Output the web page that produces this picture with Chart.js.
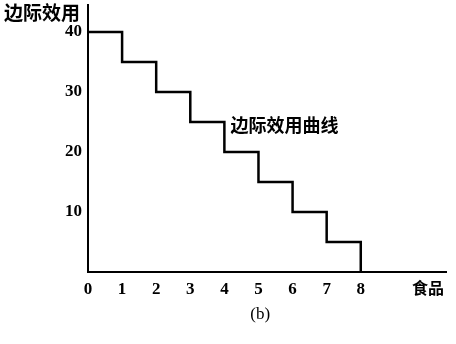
<!DOCTYPE html>
<html>
<head>
<meta charset="utf-8">
<script src="https://cdn.jsdelivr.net/npm/chart.js@4/dist/chart.umd.min.js"></script>
<style>
  html, body { margin: 0; padding: 0; background: #fff; }
  #wrap { width: 456px; height: 344px; }
</style>
</head>
<body>
<div id="wrap"><canvas id="c" width="456" height="344"></canvas></div>
<script>
// Quantity of food consumed and the marginal utility of each extra unit
const quantities = [0, 1, 2, 3, 4, 5, 6, 7, 8];
const marginalUtility = [40, 35, 30, 25, 20, 15, 10, 5, 0];
const xTickValues = [0, 1, 2, 3, 4, 5, 6, 7, 8];
const yTickValues = [10, 20, 30, 40];

const yAxisTitle = '边际效用';
const xAxisTitle = '食品';
const curveLabel = '边际效用曲线';
const caption = '(b)';

const serifBold = { family: "'Liberation Serif', 'DejaVu Serif', serif", size: 17, weight: 'bold' };
const cjkFont = "'Noto Sans CJK SC', sans-serif";

const textPlugin = {
  id: 'annotations',
  afterDraw(chart) {
    const { ctx, chartArea, scales } = chart;
    ctx.save();
    ctx.fillStyle = '#000';
    ctx.textBaseline = 'middle';

    // y-axis title in the top-left corner
    ctx.font = "bold 19px " + cjkFont;
    ctx.textAlign = 'left';
    ctx.fillText(yAxisTitle, 4, 13);

    // label beside the step curve
    ctx.font = "bold 18px " + cjkFont;
    ctx.fillText(curveLabel, scales.x.getPixelForValue(4.18), scales.y.getPixelForValue(24.5));

    // x-axis title at the right end of the axis
    ctx.font = "bold 16px " + cjkFont;
    ctx.fillText(xAxisTitle, 412, chartArea.bottom + 16);

    // caption below the axis
    ctx.font = "17px 'Liberation Serif', serif";
    ctx.textAlign = 'center';
    ctx.fillText(caption, scales.x.getPixelForValue(5.05), chartArea.bottom + 43);
    ctx.restore();
  }
};

// drop the automatic half-label padding so the plot area keeps its fixed box
function noLabelPadding(scale) {
  scale.paddingTop = 0;
  scale.paddingBottom = 0;
  scale.paddingLeft = 0;
  scale.paddingRight = 0;
}

new Chart(document.getElementById('c'), {
  type: 'line',
  data: {
    datasets: [{
      data: quantities.map((q, i) => ({ x: q, y: marginalUtility[i] })),
      stepped: 'before',
      borderColor: '#000',
      borderWidth: 2.5,
      pointRadius: 0,
      fill: false
    }]
  },
  options: {
    responsive: false,
    animation: false,
    layout: { padding: { top: 5, right: 10, left: 0, bottom: 0 } },
    plugins: { legend: { display: false }, tooltip: { enabled: false } },
    scales: {
      x: {
        type: 'linear',
        min: 0,
        max: 10.5,
        afterBuildTicks(scale) { scale.ticks = xTickValues.map(v => ({ value: v })); },
        afterFit(scale) { scale.height = 72; noLabelPadding(scale); },
        ticks: { color: '#000', font: serifBold, padding: 7, maxRotation: 0, autoSkip: false },
        grid: { display: false, drawTicks: false },
        border: { display: true, color: '#000', width: 2 }
      },
      y: {
        type: 'linear',
        min: 0,
        max: 44.5,
        afterBuildTicks(scale) { scale.ticks = yTickValues.map(v => ({ value: v })); },
        afterFit(scale) { scale.width = 88; noLabelPadding(scale); },
        ticks: { color: '#000', font: serifBold, padding: 6, autoSkip: false },
        grid: { display: false, drawTicks: false },
        border: { display: true, color: '#000', width: 2 }
      }
    }
  },
  plugins: [textPlugin]
});
</script>
</body>
</html>
